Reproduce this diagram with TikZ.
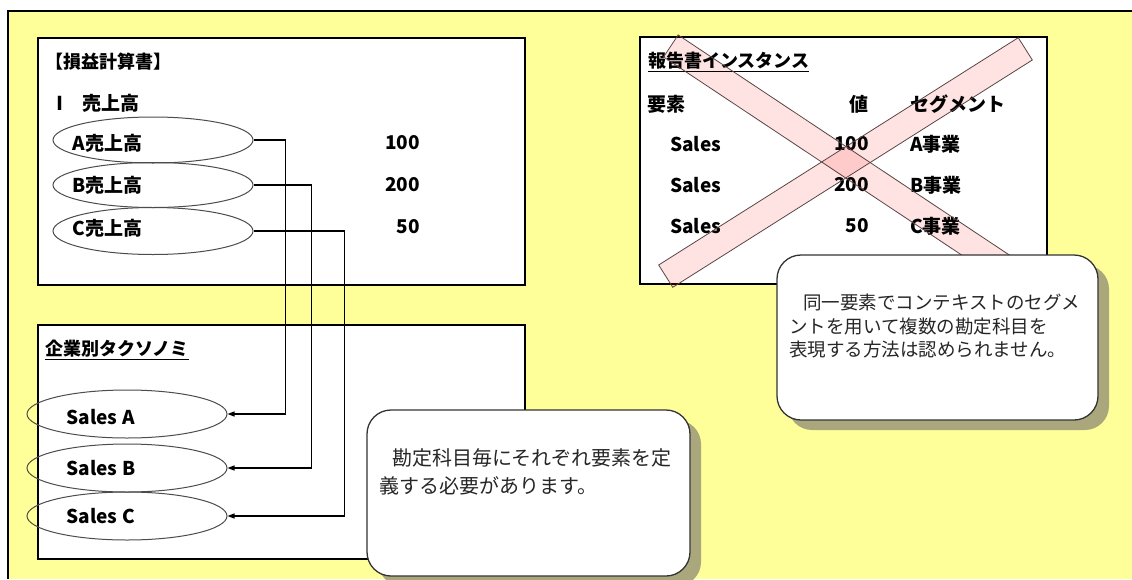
\documentclass[tikz,border=0pt]{standalone}
\usepackage{fontspec}
\setmainfont{Noto Sans CJK JP}
\usepackage{tikz}
\usetikzlibrary{arrows.meta,shapes.geometric,shadows}
\definecolor{sheet}{HTML}{FFFF99}
\definecolor{shade}{HTML}{A9A77B}
\definecolor{crossline}{HTML}{5A4444}
\tikzstyle{frame} = [draw=black, line width=2.5pt, fill=white, inner sep=0pt]
\tikzstyle{acct} = [draw=black!70, ellipse, line width=1pt, minimum width=200pt, inner sep=0pt]
\tikzstyle{txt} = [inner sep=0pt, font=\bfseries\fontsize{19}{23}\selectfont]
\tikzstyle{head} = [inner sep=0pt, font=\bfseries\fontsize{18}{22}\selectfont]
\tikzstyle{conn} = [line width=1.2pt, -{Triangle[length=7pt,width=5pt]}]
\tikzstyle{xbar} = [fill=red, fill opacity=0.11, inner sep=0pt, minimum height=26pt]
\tikzstyle{xedge} = [draw=crossline, line width=0.8pt]
\tikzstyle{note} = [draw=black!80, line width=1.3pt, fill=white, rounded corners=24pt, inner sep=0pt, drop shadow={fill=shade, opacity=1, shadow xshift=11pt, shadow yshift=-10pt}]
\tikzstyle{notetext} = [inner sep=0pt, align=left, anchor=north west, text=black!85]

\begin{document}
\begin{tikzpicture}[x=1pt,y=-1pt]
    \useasboundingbox (0,0) rectangle (1132,579);
    \fill[white] (0,0) rectangle (1132,579);
    \fill[sheet] (8,11) rectangle (1132,579);
    \draw[line width=2pt] (1132,11) -- (8,11) -- (8,579);

    \node[frame, minimum width=487pt, minimum height=247pt] (pl) at (281.5,161.5) {};
    \node[frame, minimum width=487pt, minimum height=234pt] (tx) at (281.5,442) {};
    \node[frame, minimum width=407pt, minimum height=247pt] (inst) at (843.5,160.5) {};

    \node[head, anchor=west] (plt) at (45,62) {【損益計算書】};
    \node[txt, anchor=west] (plh) at (50,103) {\makebox[32pt][l]{Ⅰ}売上高};
    \node[acct, minimum height=46pt] (ea) at (153,140) {};
    \node[acct, minimum height=45pt] (eb) at (153,185) {};
    \node[acct, minimum height=47pt] (ec) at (153,231) {};
    \node[txt, anchor=west] (la) at ([xshift=20pt,yshift=-3pt]ea.west) {A売上高};
    \node[txt, anchor=west] (lb) at ([xshift=20pt]eb.west) {B売上高};
    \node[txt, anchor=west] (lc) at ([xshift=20pt,yshift=3pt]ec.west) {C売上高};
    \node[txt, anchor=east] (va) at (420,143) {100};
    \node[txt, anchor=east] (vb) at (420,185) {200};
    \node[txt, anchor=east] (vc) at (420,227) {50};

    \node[head, anchor=west] (txt) at (45,350) {\underline{企業別タクソノミ}};
    \node[acct, minimum height=48pt] (sa) at (127,414) {};
    \node[acct, minimum height=48pt] (sb) at (127,468) {};
    \node[acct, minimum height=48pt] (sc) at (127,516) {};
    \node[txt, anchor=west] (ma) at ([xshift=40pt,yshift=-3pt]sa.west) {Sales A};
    \node[txt, anchor=west] (mb) at ([xshift=40pt]sb.west) {Sales B};
    \node[txt, anchor=west] (mc) at ([xshift=40pt]sc.west) {Sales C};

    \draw[conn] (ea.east) -- ++(32,0) |- (sa.east);
    \draw[conn] (eb.east) -- ++(58,0) |- (sb.east);
    \draw[conn] (ec.east) -- ++(91,0) |- (sc.east);

    \node[xbar, minimum width=419pt, rotate=-33.6] (xa) at (845.5,162) {};
    \node[xbar, minimum width=425pt, rotate=32.3] (xb) at (845.5,162.5) {};

    \node[head, anchor=west] (it) at (648,62) {\underline{報告書インスタンス}};
    \node[txt, anchor=west] (ih1) at (647,104) {要素};
    \node[txt, anchor=east] (ih2) at (869,104) {値};
    \node[txt, anchor=west] (ih3) at (910,104) {セグメント};
    \node[txt, anchor=west] (ia1) at (670,144) {Sales};
    \node[txt, anchor=west] (ib1) at (670,185) {Sales};
    \node[txt, anchor=west] (ic1) at (670,226) {Sales};
    \node[txt, anchor=east] (ia2) at (869,144) {100};
    \node[txt, anchor=east] (ib2) at (869,185) {200};
    \node[txt, anchor=east] (ic2) at (869,226) {50};
    \node[txt, anchor=west] (ia3) at (910,144) {A事業};
    \node[txt, anchor=west] (ib3) at (910,185) {B事業};
    \node[txt, anchor=west] (ic3) at (910,226) {C事業};

    \draw[xedge] (xa.north west) -- (xa.north east) -- (xa.south east) -- (xa.south west) -- cycle;
    \draw[xedge] (xb.north west) -- (xb.north east) -- (xb.south east) -- (xb.south west) -- cycle;

    \node[note, minimum width=321pt, minimum height=165pt] (nr) at (937.5,337.5) {};
    \node[notetext, font=\fontsize{18.5}{23.5}\selectfont] (nrt) at (789,294) {\hspace{14pt}同一要素でコンテキストのセグメ\\ントを用いて複数の勘定科目を\\表現する方法は認められません。};
    \node[note, minimum width=323pt, minimum height=166pt] (nb) at (528.5,493) {};
    \node[notetext, font=\fontsize{20}{28}\selectfont] (nbt) at (379,448) {\hspace{13pt}勘定科目毎にそれぞれ要素を定\\義する必要があります。};
\end{tikzpicture}
\end{document}
